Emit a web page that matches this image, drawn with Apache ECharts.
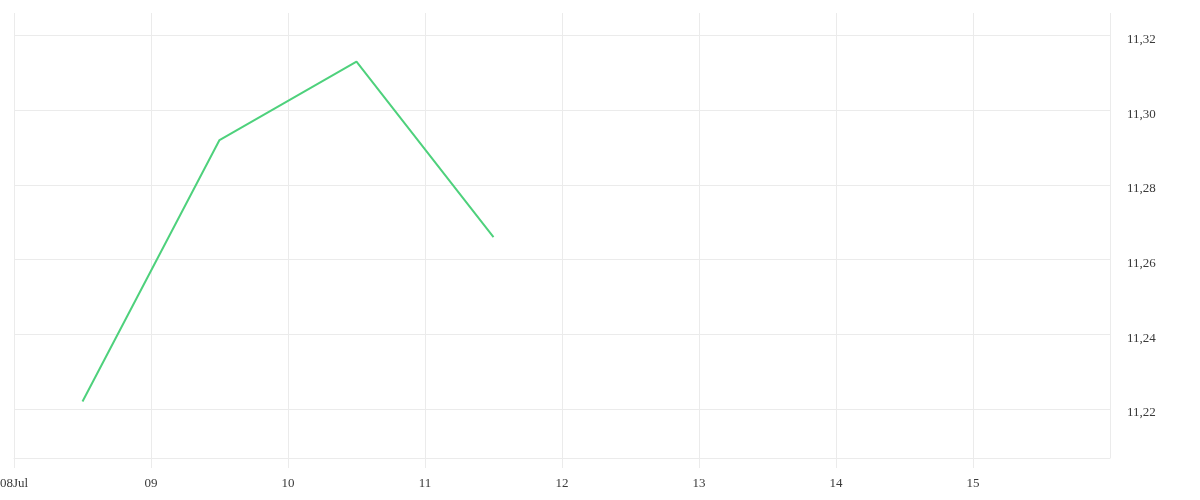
<!DOCTYPE html>
<html>
<head>
<meta charset="utf-8">
<script src="https://cdn.jsdelivr.net/npm/echarts@6/dist/echarts.min.js"></script>
<style>
html,body{margin:0;padding:0;background:#fff;}
#chart{width:1200px;height:500px;}
</style>
</head>
<body>
<div id="chart"></div>
<script>
// Data
var dates = ['2024-07-08T12:00:00Z', '2024-07-09T12:00:00Z', '2024-07-10T12:00:00Z', '2024-07-11T12:00:00Z'];
var values = [11.222, 11.292, 11.313, 11.266];
var xStart = '2024-07-08T00:00:00Z';
var xEnd = '2024-07-16T00:00:00Z';
var yMin = 11.2069;
var yMax = 11.326;

var DAY = 86400000;
var FONT = 'Liberation Serif';
var gridColor = '#ebebeb';
var labelColor = '#3a3a3a';

var chart = echarts.init(document.getElementById('chart'), null, {renderer: 'canvas'});
var seriesData = dates.map(function (d, i) { return [Date.parse(d), values[i]]; });

chart.setOption({
  animation: false,
  backgroundColor: '#ffffff',
  grid: {left: 14, right: 90, top: 13, bottom: 42, containLabel: false, outerBoundsMode: 'none'},
  xAxis: {
    type: 'value',
    min: Date.parse(xStart),
    max: Date.parse(xEnd),
    interval: DAY,
    axisLine: {show: true, lineStyle: {color: gridColor, width: 1}},
    axisTick: {show: true, inside: false, length: 10, lineStyle: {color: gridColor, width: 1}},
    splitLine: {show: true, lineStyle: {color: gridColor, width: 1}},
    axisLabel: {
      showMaxLabel: false,
      hideOverlap: false,
      margin: 19,
      color: labelColor,
      fontFamily: FONT,
      fontSize: 13,
      formatter: function (v) {
        var d = new Date(v);
        var day = ('0' + d.getUTCDate()).slice(-2);
        if (Math.abs(v - Date.parse(xStart)) < 1000) {
          return day + ['Jan','Feb','Mar','Apr','May','Jun','Jul','Aug','Sep','Oct','Nov','Dec'][d.getUTCMonth()];
        }
        return day;
      }
    }
  },
  yAxis: {
    type: 'value',
    position: 'right',
    min: yMin,
    max: yMax,
    splitNumber: 6,
    scale: true,
    axisLine: {show: false},
    axisTick: {show: false},
    splitLine: {show: true, showMaxLine: false, lineStyle: {color: gridColor, width: 1}},
    axisLabel: {
      showMinLabel: false,
      showMaxLabel: false,
      margin: 17,
      verticalAlign: 'top',
      lineHeight: 8,
      color: labelColor,
      fontFamily: FONT,
      fontSize: 13,
      formatter: function (v) { return v.toFixed(2).replace('.', ','); }
    }
  },
  series: [{
    type: 'line',
    data: seriesData,
    symbol: 'none',
    lineStyle: {color: '#4ed17c', width: 2},
    itemStyle: {color: '#4ed17c'}
  }]
});
</script>
</body>
</html>
